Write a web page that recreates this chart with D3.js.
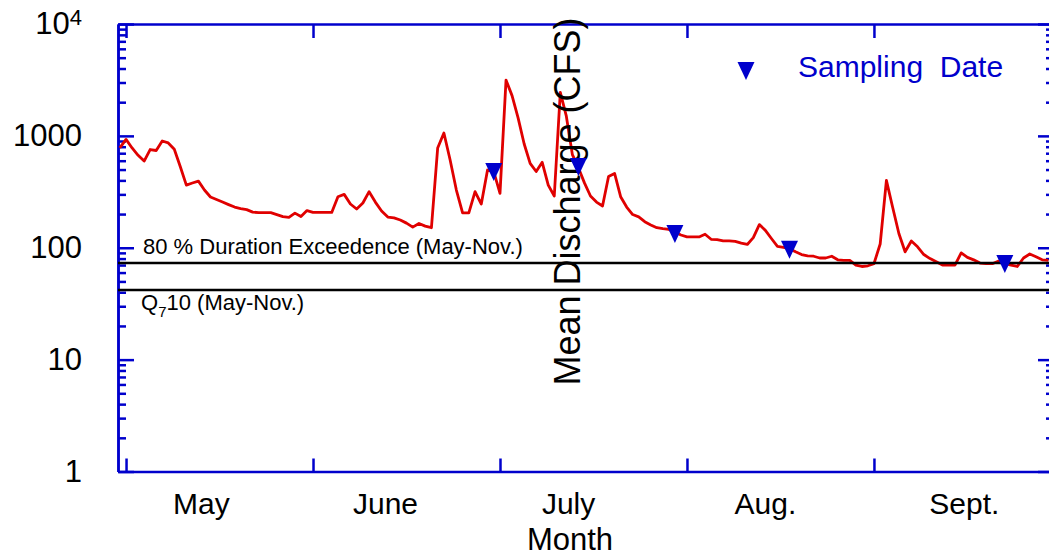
<!DOCTYPE html>
<html>
<head>
<meta charset="utf-8">
<script src="https://cdn.jsdelivr.net/npm/d3@7"></script>
<style>
  body { margin: 0; background: #fff; }
</style>
</head>
<body>
<div id="chart"></div>
<script>
// ---- data ----
const monthTicks = [5, 6, 7, 8, 9];
const monthNames = ["May", "June", "July", "Aug.", "Sept."];
const monthLabelAt = [5.40, 6.385, 7.364, 8.417, 9.481];
const daysIn = { 4: 30, 5: 31, 6: 30, 7: 31, 8: 31, 9: 30 };

// mean daily discharge (CFS)
const flowApr = [780]; // starts Apr 30
const flowMay = [930, 780, 670, 595, 755, 740, 900, 865, 760, 530,
                 363, 379, 394, 328, 284, 270, 256, 243, 231, 224,
                 219, 208, 206, 206, 206, 198, 190, 187, 204, 190, 215];
const flowJune = [207, 207, 207, 207, 286, 300, 246, 222, 251, 317,
                  256, 213, 188, 185, 177, 166, 153, 165, 156, 151,
                  778, 1060, 608, 328, 205, 205, 317, 246, 495, 480];
const flowJuly = [306, 3150, 2290, 1450, 850, 568, 480, 580, 363, 290,
                  2450, 1500, 680, 520, 380, 290, 256, 236, 433, 462,
                  286, 231, 198, 189, 171, 160, 151, 148, 146, 138, 130];
const flowAug = [125, 125, 125, 132, 119, 118, 115, 115, 114, 110,
                 107, 123, 161, 143, 121, 103, 101, 98, 92, 87,
                 84.5, 84, 81, 81, 84, 78, 77, 77, 70, 68, 69];
const flowSept = [72, 108, 400, 230, 134, 92, 115, 102, 87, 80,
                  75, 70, 70, 70, 90, 82, 78, 73, 72, 72,
                  76, 72, 70, 68, 81, 88, 83, 78, 77];

const sampleDates = [[6, 30], [7, 14], [7, 30], [8, 18], [9, 22]];
const sampleFlow = [475, 526, 133, 96, 71.5];

const yMajor = [1, 10, 100, 1000, 10000];
const yTickLabels = ["1", "10", "100", "1000", "10^4"];

const refValues = [73, 42];

// ---- setup ----
const width = 1049, height = 556;
const plot = { left: 118, right: 1054, top: 24, bottom: 471.5 };
const BLUE = "#0000cc", RED = "#e00000";
const FONT = "'Liberation Sans', Arial, sans-serif";

const svg = d3.select("#chart").append("svg")
    .attr("width", width)
    .attr("height", height)
    .style("display", "block")
    .style("background", "#fff");

const monthUnit = (m, d) => m + (d - 1) / daysIn[m];

const blocks = [
    { m: 4, d0: 30, vals: flowApr },
    { m: 5, d0: 1, vals: flowMay },
    { m: 6, d0: 1, vals: flowJune },
    { m: 7, d0: 1, vals: flowJuly },
    { m: 8, d0: 1, vals: flowAug },
    { m: 9, d0: 1, vals: flowSept }
];
const series = blocks.flatMap(b => b.vals.map((v, i) => ({ t: monthUnit(b.m, b.d0 + i), v })));
const samples = sampleDates.map((md, i) => ({ t: monthUnit(md[0], md[1]), v: sampleFlow[i] }));

// scales
const x = d3.scaleLinear().domain([4.957, 9.963]).range([plot.left, plot.right]);
const y = d3.scaleLog().domain([1, 1e4]).range([plot.bottom, plot.top]);
const minorY = y.ticks().filter(v => !yMajor.includes(v));

function styleAxis(g) {
    g.attr("font-family", FONT);
    g.select(".domain").attr("stroke", BLUE).attr("stroke-width", 2.5);
    g.selectAll(".tick line").attr("stroke", BLUE).attr("stroke-width", 2.5);
    g.selectAll(".tick text").attr("fill", "#000");
}

// left axis
const leftAxis = svg.append("g")
    .attr("transform", `translate(${plot.left},0)`)
    .call(d3.axisLeft(y).tickValues(yMajor).tickSize(-16).tickSizeOuter(0)
        .tickPadding(36).tickFormat((d, i) => yTickLabels[i]))
    .call(styleAxis)
    .attr("font-size", 31);

leftAxis.selectAll(".tick text").each(function () {
    const t = d3.select(this);
    const s = t.text();
    if (s.includes("^")) {
        const [base, sup] = s.split("^");
        t.text(base);
        t.append("tspan").attr("dy", "-0.45em").attr("font-size", 22).text(sup);
    }
});

svg.append("g")
    .attr("transform", `translate(${plot.left},0)`)
    .call(d3.axisLeft(y).tickValues(minorY).tickSize(-8).tickSizeOuter(0).tickFormat(""))
    .call(styleAxis);

// right axis
svg.append("g")
    .attr("transform", `translate(${plot.right},0)`)
    .call(d3.axisRight(y).tickValues(yMajor).tickSize(-16).tickSizeOuter(0).tickFormat(""))
    .call(styleAxis);
svg.append("g")
    .attr("transform", `translate(${plot.right},0)`)
    .call(d3.axisRight(y).tickValues(minorY).tickSize(-8).tickSizeOuter(0).tickFormat(""))
    .call(styleAxis);

// top and bottom axes
svg.append("g")
    .attr("transform", `translate(0,${plot.top})`)
    .call(d3.axisTop(x).tickValues(monthTicks).tickSize(-14).tickSizeOuter(0).tickFormat(""))
    .call(styleAxis);
svg.append("g")
    .attr("transform", `translate(0,${plot.bottom})`)
    .call(d3.axisBottom(x).tickValues(monthTicks).tickSize(-13).tickSizeOuter(0).tickFormat(""))
    .call(styleAxis);

// month labels
const monthLabels = svg.append("g")
    .attr("transform", `translate(0,${plot.bottom})`)
    .call(d3.axisBottom(x).tickValues(monthLabelAt).tickSize(0).tickPadding(21)
        .tickFormat((d, i) => monthNames[i]))
    .call(styleAxis)
    .attr("font-size", 30);
monthLabels.select(".domain").remove();

// discharge line
svg.append("path")
    .datum(series)
    .attr("fill", "none")
    .attr("stroke", RED)
    .attr("stroke-width", 2.8)
    .attr("stroke-linejoin", "round")
    .attr("d", d3.line().x(d => x(d.t)).y(d => y(d.v)));

// reference lines
svg.append("g").selectAll("line")
    .data(refValues)
    .join("line")
    .attr("x1", plot.left).attr("x2", plot.right)
    .attr("y1", d => y(d)).attr("y2", d => y(d))
    .attr("stroke", "#000")
    .attr("stroke-width", 2.5);

svg.append("text")
    .attr("x", 143).attr("y", y(refValues[0]) - 9)
    .attr("font-family", FONT).attr("font-size", 22)
    .text("80 % Duration Exceedence (May-Nov.)");

const q = svg.append("text")
    .attr("x", 141).attr("y", y(refValues[1]) + 20)
    .attr("font-family", FONT).attr("font-size", 22);
q.append("tspan").text("Q");
q.append("tspan").attr("dy", 7).attr("font-size", 15).text("7");
q.append("tspan").attr("dy", -7).text("10 (May-Nov.)");

// axis titles
svg.append("text")
    .attr("transform", `translate(580,201.5) rotate(-90)`)
    .attr("text-anchor", "middle")
    .attr("font-family", FONT).attr("font-size", 36)
    .text("Mean Discharge (CFS)");

svg.append("text")
    .attr("x", 570).attr("y", 549.5)
    .attr("text-anchor", "middle")
    .attr("font-family", FONT).attr("font-size", 31)
    .text("Month");

// sampling dates
const tri = "M-8.5,-9L8.5,-9L0,9Z";
svg.append("g").selectAll("path")
    .data(samples)
    .join("path")
    .attr("d", tri)
    .attr("fill", BLUE)
    .attr("transform", d => `translate(${x(d.t)},${y(d.v)})`);

// legend
svg.append("path").attr("d", tri).attr("fill", BLUE)
    .attr("transform", "translate(746,71)");
svg.append("text")
    .attr("x", 798).attr("y", 77)
    .attr("font-family", FONT).attr("font-size", 30)
    .attr("fill", BLUE)
    .style("white-space", "pre")
    .text("Sampling  Date");
</script>
</body>
</html>
